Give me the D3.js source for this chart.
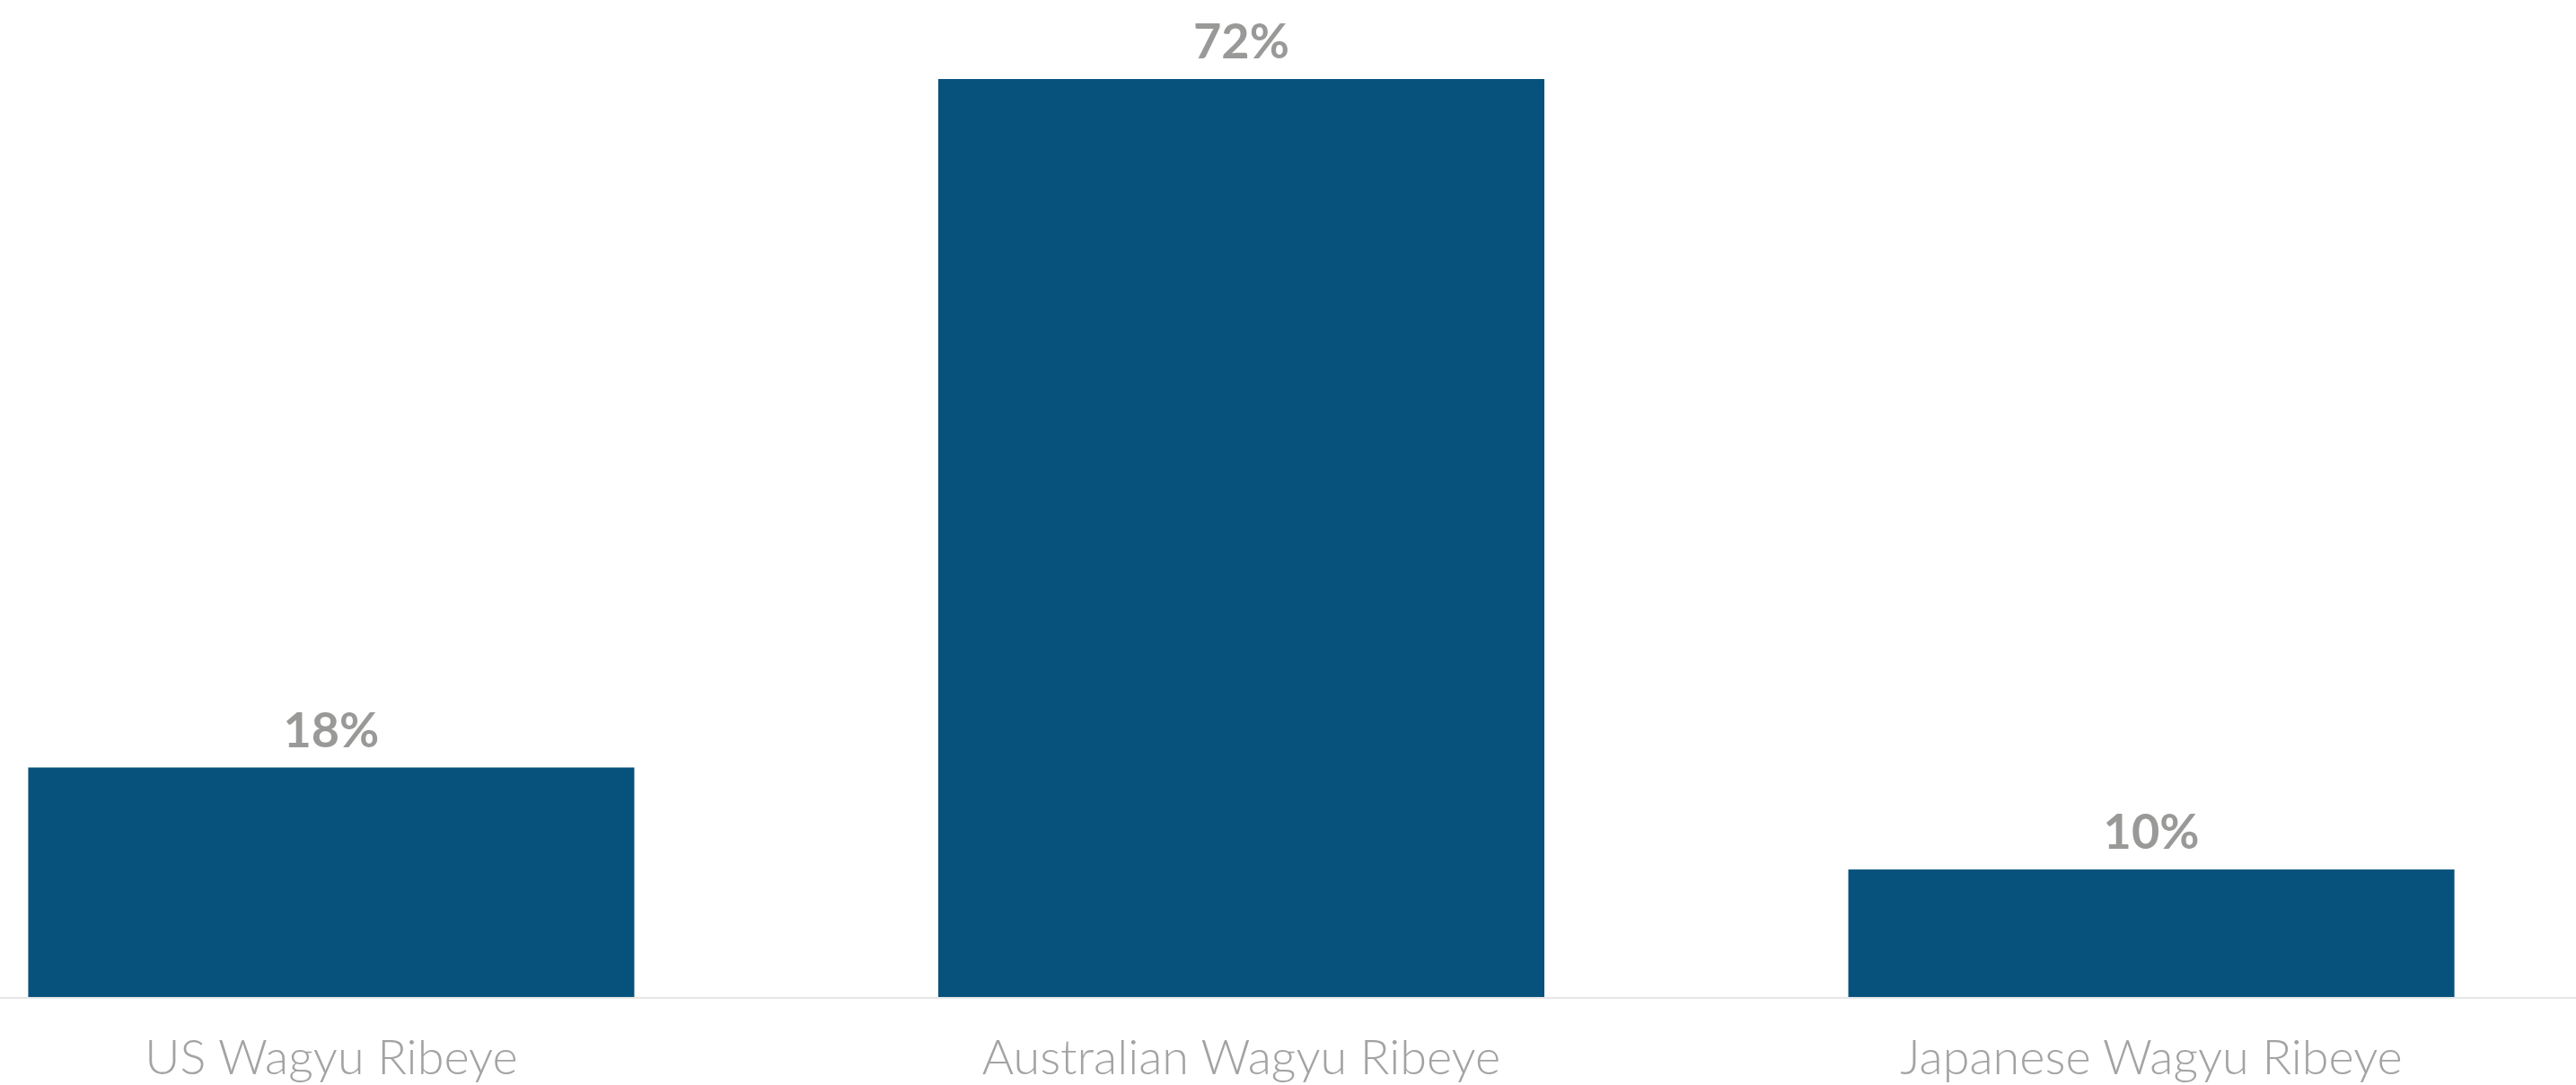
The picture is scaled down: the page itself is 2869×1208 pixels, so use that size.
<!DOCTYPE html>
<html>
<head>
<meta charset="utf-8">
<script src="https://cdn.jsdelivr.net/npm/d3@7"></script>
<style>
  html, body { margin: 0; padding: 0; background: #ffffff; }
  svg { display: block; }
</style>
</head>
<body>
<svg id="chart"></svg>
<script>
const categories = ["US Wagyu Ribeye", "Australian Wagyu Ribeye", "Japanese Wagyu Ribeye"];
const values = [18, 72, 10];
const valueLabels = ["18%", "72%", "10%"];

const W = 2869, H = 1208;
const baseY = 1110;

const svg = d3.select("#chart").attr("width", W).attr("height", H);

const x = d3.scaleBand()
  .domain(categories)
  .range([0, 2765])
  .paddingInner(0.334)
  .paddingOuter(0.031);

const y = d3.scaleLinear()
  .domain([0, 72])
  .range([baseY, 88]);

const data = categories.map((c, i) => ({ c, v: values[i], label: valueLabels[i] }));

svg.append("g").selectAll("rect")
  .data(data)
  .join("rect")
  .attr("x", d => x(d.c))
  .attr("width", x.bandwidth())
  .attr("y", d => y(d.v))
  .attr("height", d => y(0) - y(d.v))
  .attr("fill", "#06527d");

// baseline
svg.append("line")
  .attr("x1", 0).attr("x2", W)
  .attr("y1", baseY + 1).attr("y2", baseY + 1)
  .attr("stroke", "#e6e6e6")
  .attr("stroke-width", 2);

// value labels
svg.append("g").selectAll("text")
  .data(data)
  .join("text")
  .attr("x", d => x(d.c) + x.bandwidth() / 2)
  .attr("y", d => y(d.v) - 23)
  .attr("text-anchor", "middle")
  .attr("font-family", "Lato, 'Open Sans', sans-serif")
  .attr("font-weight", 700)
  .attr("font-size", 54)
  .attr("fill", "#999a98")
  .text(d => d.label);

// category axis
const axis = d3.axisBottom(x).tickSize(0).tickPadding(0);
const gx = svg.append("g")
  .attr("transform", `translate(0, ${baseY})`)
  .call(axis);
gx.select(".domain").remove();
gx.selectAll("text")
  .attr("dy", null)
  .attr("y", 86)
  .attr("font-family", "Lato, 'Open Sans', sans-serif")
  .attr("font-weight", 300)
  .attr("font-size", 54)
  .attr("fill", "#a3a3a3");
</script>
</body>
</html>
